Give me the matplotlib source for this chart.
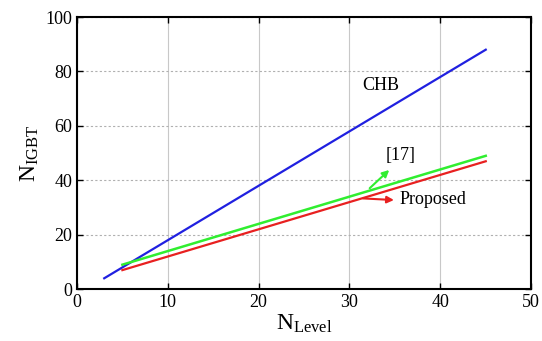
import matplotlib
matplotlib.use("Agg")
import matplotlib.pyplot as plt

plt.rcParams["font.family"] = "Liberation Serif"
plt.rcParams["mathtext.fontset"] = "custom"
plt.rcParams["mathtext.rm"] = "Liberation Serif"

# numero de niveis vs numero de IGBTs
n_level_chb = [3, 10, 20, 30, 45]
n_igbt_chb = [4, 18, 38, 58, 88]

n_level_ref = [5, 15, 25, 35, 45]
n_igbt_ref = [9, 19, 29, 39, 49]

n_level_prop = [5, 15, 25, 35, 45]
n_igbt_prop = [7, 17, 27, 37, 47]

fig = plt.figure(figsize=(5.42, 3.41), dpi=100)
ax = fig.add_axes([0.142, 0.152, 0.838, 0.798])

ax.plot(n_level_chb, n_igbt_chb, color="#2020e0", lw=1.6)
ax.plot(n_level_ref, n_igbt_ref, color="#30ee30", lw=1.8)
ax.plot(n_level_prop, n_igbt_prop, color="#e82020", lw=1.6)

ax.set_xlim(0, 50)
ax.set_ylim(0, 100)
ax.set_xticks([0, 10, 20, 30, 40, 50])
ax.set_yticks([0, 20, 40, 60, 80, 100])
ax.xaxis.grid(True, color="#c8c8c8", lw=0.8, ls="-")
ax.yaxis.grid(True, color="#b0b0b0", lw=0.8, ls=(0, (2, 2)))
ax.tick_params(direction="in", top=True, right=True, labelsize=13, length=4, width=1)
for s in ax.spines.values():
    s.set_linewidth(1.5)

ax.set_xlabel(r"$\mathregular{N_{Level}}$", fontsize=17, labelpad=1)
ax.set_ylabel(r"$\mathregular{N_{IGBT}}$", fontsize=17, labelpad=3)

ax.text(31.4, 75, "CHB", fontsize=13, ha="left", va="center")
ax.annotate("", xy=(34.6, 44.5), xytext=(32.0, 36.4),
            arrowprops=dict(arrowstyle="-|>", color="#30ee30", lw=1.5, mutation_scale=10))
ax.text(34.0, 49, "[17]", fontsize=13, ha="left", va="center")
ax.annotate("", xy=(35.2, 32.7), xytext=(31.2, 33.4),
            arrowprops=dict(arrowstyle="-|>", color="#e82020", lw=1.5, mutation_scale=10))
ax.text(35.5, 33, "Proposed", fontsize=13, ha="left", va="center")

fig.savefig("out.png", dpi=100)
